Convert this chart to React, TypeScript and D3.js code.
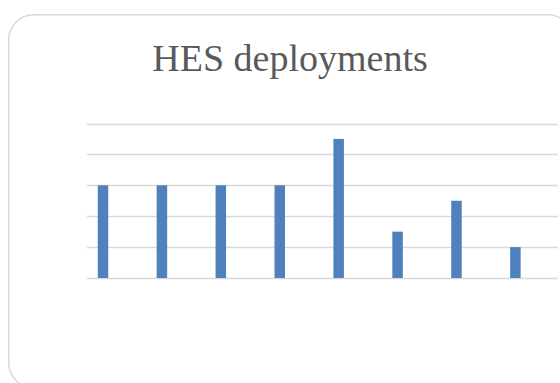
import React from "react";
import * as d3 from "d3";

// Deployments per period
const categories: string[] = ["1", "2", "3", "4", "5", "6", "7", "8"];
const deployments: number[] = [3, 3, 3, 3, 4.5, 1.5, 2.5, 1];
const yTicks: number[] = [0, 1, 2, 3, 4, 5];
const title = "HES deployments";

const W = 560;
const H = 383;

export default function App() {
  const x = d3.scalePoint<string>().domain(categories).range([103, 515.4]).padding(0);
  const y = d3.scaleLinear().domain([0, 5]).range([278, 123.5]);
  const barW = 10.5;
  const gridX0 = 87;
  const gridX1 = 558;

  return (
    <svg
      width={W}
      height={H}
      viewBox={`0 0 ${W} ${H}`}
      style={{ position: "absolute", left: 0, top: 0, display: "block", background: "#ffffff" }}
    >
      <rect x={8.75} y={14.75} width={564} height={373} rx={25} ry={25} fill="#ffffff" stroke="#d9d9d9" strokeWidth={1.5} />
      <text
        x={290}
        y={70.5}
        textAnchor="middle"
        fontFamily="'Liberation Serif', 'Times New Roman', serif"
        fontSize={38}
        fill="#595959"
      >
        {title}
      </text>
      <g>
        {yTicks.map((t) => (
          <line
            key={t}
            x1={gridX0}
            x2={gridX1}
            y1={Math.round(y(t)) + 0.5}
            y2={Math.round(y(t)) + 0.5}
            stroke="#d9d9d9"
            strokeWidth={1.3}
          />
        ))}
      </g>
      <g>
        {categories.map((c, i) => (
          <rect
            key={c}
            x={(x(c) as number) - barW / 2}
            y={y(deployments[i])}
            width={barW}
            height={y(0) - y(deployments[i])}
            fill="#4f81bd"
          />
        ))}
      </g>
    </svg>
  );
}
